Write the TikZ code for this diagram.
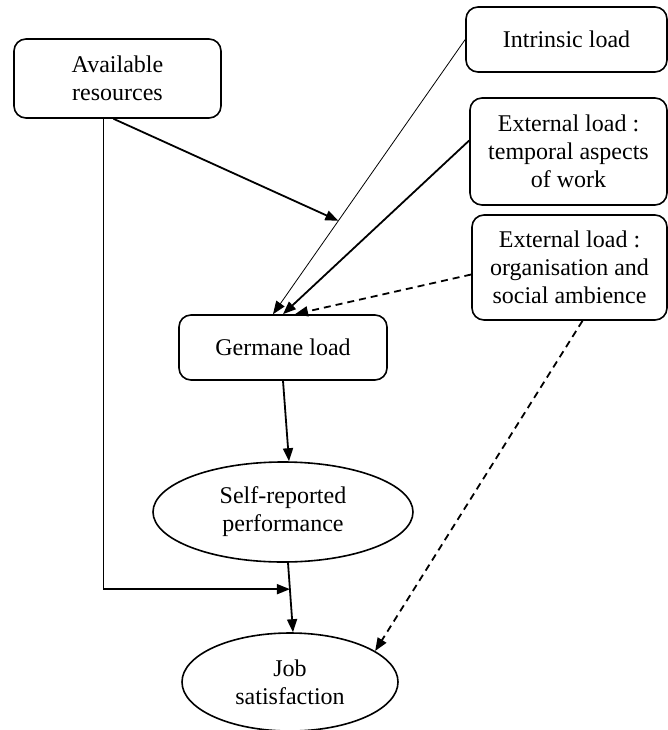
\documentclass[tikz,border=0pt]{standalone}
\usepackage{fontspec}
\setmainfont{Liberation Serif}
\usetikzlibrary{arrows.meta,shapes.geometric}

\begin{document}
\begin{tikzpicture}[x=1pt, y=-1pt,
    every node/.style={font=\fontsize{24}{28}\selectfont},
    box/.style={draw, line width=1.6pt, rounded corners=12pt, align=center, inner sep=0pt},
    oval/.style={draw, line width=1.6pt, ellipse, align=center, inner sep=0pt},
    link/.style={line width=1.8pt, -{Triangle[length=13pt,width=10pt]}},
    dashlink/.style={link, dash pattern=on 7pt off 5pt}]
    \useasboundingbox (0,0) rectangle (668,730);

    % Boxes
    \node[box, minimum width=207pt, minimum height=79pt] (avail) at (117.5,78.5) {Available\\resources};
    \node[box, minimum width=201pt, minimum height=65pt] (intr) at (566.5,39.5) {Intrinsic load};
    \node[box, minimum width=197pt, minimum height=107pt] (temp) at (568.5,151.5) {External load :\\temporal aspects\\of work};
    \node[box, minimum width=195pt, minimum height=105pt] (org) at (569.5,267.5) {External load :\\organisation and\\social ambience};
    \node[box, minimum width=208pt, minimum height=65pt] (germ) at (283,347.5) {Germane load};

    % Outcomes
    \node[oval, minimum width=260pt, minimum height=100pt] (self) at (283,512) {Self-reported\\performance};
    \node[oval, minimum width=216pt, minimum height=98pt] (job) at (290,682) {Job\\satisfaction};

    % Loads into germane load
    \draw[link, line width=0.8pt] (intr.west) -- coordinate[pos=0.66] (mod) ([xshift=-10pt]germ.north);
    \draw[link] ([yshift=11pt]temp.west) -- (germ.north);
    \draw[dashlink] ([yshift=-7pt]org.west) -- ([xshift=12pt]germ.north);
    \draw[link] ([xshift=-4pt]avail.south) -- (mod);

    % Down to the outcomes
    \draw[link] (germ.south) -- ([xshift=6pt]self.north);
    \draw[link] ([xshift=5pt]self.south) -- coordinate[pos=0.38] (meet) ([xshift=3pt]job.north);
    \draw[link] ([xshift=-14pt]avail.south) |- (meet);
    \draw[dashlink] ([xshift=13pt]org.south) -- (job.20);
\end{tikzpicture}
\end{document}
